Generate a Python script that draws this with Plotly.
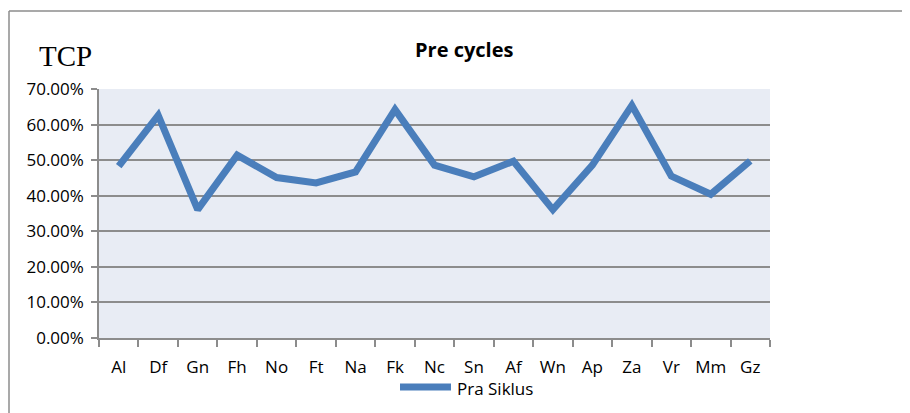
import plotly.graph_objects as go

categories = ["Al", "Df", "Gn", "Fh", "No", "Ft", "Na", "Fk", "Nc", "Sn", "Af", "Wn", "Ap", "Za", "Vr", "Mm", "Gz"]
pra_siklus = [0.483, 0.626, 0.361, 0.514, 0.451, 0.436, 0.467, 0.642, 0.486, 0.453, 0.497, 0.361, 0.486, 0.654, 0.455, 0.404, 0.498]
series_name = "Pra Siklus"
y_ticks = [0, 0.1, 0.2, 0.3, 0.4, 0.5, 0.6, 0.7]
y_tick_labels = ["0.00%", "10.00%", "20.00%", "30.00%", "40.00%", "50.00%", "60.00%", "70.00%"]

W, H = 910, 413
OFF = 8  # page body margin
L, T = 99 - OFF, 89 - OFF
pw, ph = 671, 249
R = W - L - pw
B = H - T - ph

def px(x):  # screen x -> paper fraction
    return (x - OFF - L) / pw

def py(y):  # screen y -> paper fraction
    return (H - B - (y - OFF)) / ph

font_main = "'Open Sans', sans-serif"
grey = "#8C8C8C"
blue = "#4A7EBB"

fig = go.Figure()
fig.add_trace(go.Scatter(
    x=categories, y=pra_siklus, mode="lines", name=series_name,
    line=dict(color=blue, width=7), showlegend=False,
))

fig.update_layout(
    width=W, height=H,
    margin=dict(l=L, r=R, t=T, b=B),
    paper_bgcolor="white",
    plot_bgcolor="#E8ECF4",
    showlegend=False,
    font=dict(family=font_main, size=17, color="black"),
    xaxis=dict(
        type="category", tickson="boundaries", ticks="outside", ticklen=7,
        tickcolor=grey, tickwidth=1.5, tickangle=0,
        showline=True, linecolor=grey, linewidth=1.5,
        showgrid=False, tickfont=dict(size=17, family=font_main), ticklabelstandoff=13,
        range=[-0.5, len(categories) - 0.5],
    ),
    yaxis=dict(
        range=[0, 0.7], tickvals=y_ticks, ticktext=y_tick_labels,
        ticks="outside", ticklen=6, tickcolor=grey, tickwidth=1.5,
        showline=True, linecolor=grey, linewidth=1.5,
        showgrid=True, gridcolor=grey, gridwidth=1.5,
        zeroline=False, tickfont=dict(size=17, family=font_main), ticklabelstandoff=4,
    ),
    annotations=[
        dict(text="<b>Pre cycles</b>", xref="paper", yref="paper", x=px(464), y=py(49),
             xanchor="center", yanchor="middle", showarrow=False,
             font=dict(family=font_main, size=20, color="black")),
        dict(text="TCP", xref="paper", yref="paper", x=px(37), y=py(56),
             xanchor="left", yanchor="middle", showarrow=False,
             font=dict(family="'Liberation Serif', 'Times New Roman', serif", size=29, color="black")),
        dict(text=series_name, xref="paper", yref="paper", x=px(455), y=py(389),
             xanchor="left", yanchor="middle", showarrow=False,
             font=dict(family=font_main, size=17, color="black")),
    ],
    shapes=[
        dict(type="line", xref="paper", yref="paper", x0=px(9), x1=px(918), y0=py(11), y1=py(11),
             line=dict(color=grey, width=1.5)),
        dict(type="line", xref="paper", yref="paper", x0=px(9), x1=px(9), y0=py(11), y1=py(421),
             line=dict(color=grey, width=1.5)),
        dict(type="line", xref="paper", yref="paper", x0=px(400), x1=px(451), y0=py(387), y1=py(387),
             line=dict(color=blue, width=7)),
    ],
)

fig.write_html("out.html")
